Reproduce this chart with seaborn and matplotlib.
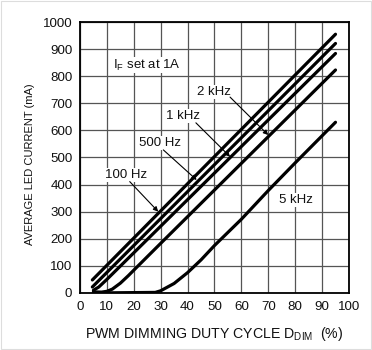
import matplotlib
matplotlib.use("Agg")
import matplotlib.pyplot as plt
import seaborn as sns
import pandas as pd

# Average LED current vs PWM dimming duty cycle, one curve per dimming frequency
duty_100hz = [4.6, 95]
current_100hz = [48, 955]
duty_500hz = [4.6, 95]
current_500hz = [22, 921]
duty_1khz = [5, 7, 10, 95]
current_1khz = [10, 22, 50, 884]
duty_2khz = [5, 8, 10, 12, 15, 18, 20, 30, 95]
current_2khz = [4, 3, 6, 14, 36, 64, 84, 183, 823]
duty_5khz = [6, 28, 30, 35, 40, 45, 50, 60, 70, 80, 95]
current_5khz = [0, 2, 8, 35, 75, 122, 175, 272, 378, 480, 630]

freq_names = ["100 Hz", "500 Hz", "1 kHz", "2 kHz", "5 kHz"]

x_ticks = [0, 10, 20, 30, 40, 50, 60, 70, 80, 90, 100]
y_ticks = [0, 100, 200, 300, 400, 500, 600, 700, 800, 900, 1000]

frames = []
for name, xs, ys in zip(
    freq_names,
    [duty_100hz, duty_500hz, duty_1khz, duty_2khz, duty_5khz],
    [current_100hz, current_500hz, current_1khz, current_2khz, current_5khz],
):
    frames.append(pd.DataFrame({"duty": xs, "current": ys, "freq": name}))
data = pd.concat(frames, ignore_index=True)

sns.set_theme(style="white")
plt.rcParams["font.family"] = ["Liberation Sans", "DejaVu Sans"]
plt.rcParams["mathtext.fontset"] = "custom"
plt.rcParams["mathtext.rm"] = "Liberation Sans"

fig = plt.figure(figsize=(3.72, 3.5), dpi=100)
ax = fig.add_axes([0.215, 0.163, 0.723, 0.774])

sns.lineplot(
    data=data, x="duty", y="current", hue="freq", units="freq",
    estimator=None, sort=False, palette=["black"] * 5, linewidth=2.3,
    legend=False, ax=ax,
)

ax.set_xlim(0, 100)
ax.set_ylim(0, 1000)
ax.set_xticks(x_ticks)
ax.set_yticks(y_ticks)
ax.set_xticklabels([str(t) for t in x_ticks], fontsize=9.6)
ax.set_yticklabels([str(t) for t in y_ticks], fontsize=9.6)
ax.grid(True, color="#555555", linewidth=0.9)
ax.set_axisbelow(True)
for sp in ax.spines.values():
    sp.set_color("black")
    sp.set_linewidth(1.3)
ax.tick_params(axis="both", direction="out", length=3.5, width=1,
               color="black", pad=2, labelcolor="#111111")

ax.set_xlabel("PWM DIMMING DUTY CYCLE D$_\\mathregular{DIM}$  (%)",
              fontsize=10.2, labelpad=9, color="#111111")
ax.set_ylabel("AVERAGE LED CURRENT (mA)", fontsize=8.0, color="#111111")
ax.yaxis.set_label_coords(-0.168, 0.476)

label_box = dict(facecolor="white", edgecolor="none", pad=0.5)
ax.text(25, 841, "I$_\\mathregular{F}$ set at 1A", fontsize=9.5,
        ha="center", va="center", color="#111111", bbox=label_box)

arrow = dict(arrowstyle="-|>", color="black", lw=0.8, mutation_scale=7,
             shrinkA=0, shrinkB=0)
notes = [
    ("2 kHz", (49.7, 742), (70, 583), (55.8, 723)),
    ("1 kHz", (38.3, 653), (55.8, 503), (43.1, 628)),
    ("500 Hz", (29.7, 553), (43.4, 417), (31, 528)),
    ("100 Hz", (17.1, 435), (29.1, 300), (18.5, 411)),
]
for label, txt_pos, tip, tail in notes:
    ax.text(txt_pos[0], txt_pos[1], label, fontsize=9.5, ha="center",
            va="center", color="#111111", bbox=label_box)
    ax.annotate("", xy=tip, xytext=tail, arrowprops=arrow)
ax.text(80.2, 343, "5 kHz", fontsize=9.5, ha="center", va="center",
        color="#111111", bbox=label_box)

fig.patches.append(plt.Rectangle((0.002, 0.002), 0.996, 0.994,
                                 transform=fig.transFigure, fill=False,
                                 edgecolor="#dddddd", linewidth=0.8))

fig.savefig("out.png", dpi=100)
